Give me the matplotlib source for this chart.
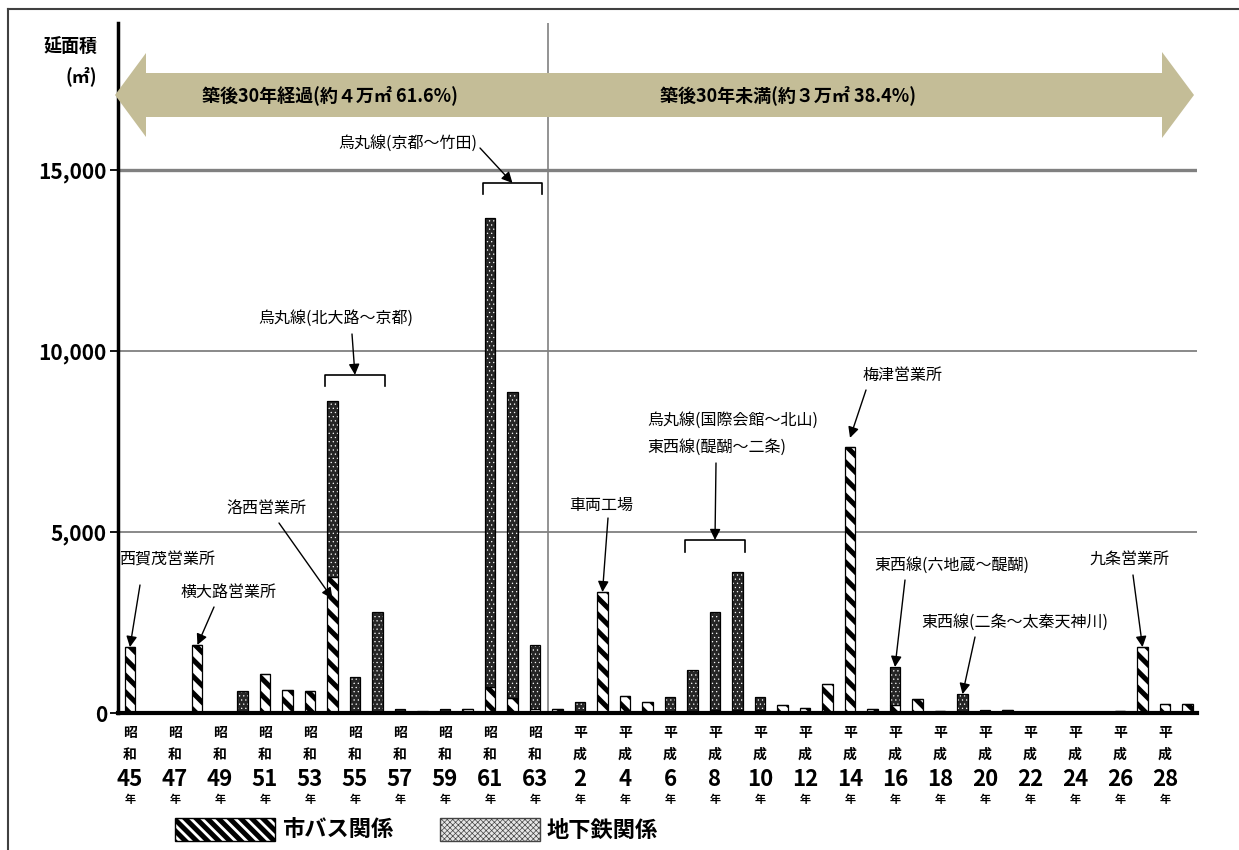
import matplotlib
matplotlib.use("Agg")
import matplotlib.pyplot as plt
import numpy as np
from matplotlib.patches import Patch, Polygon
from matplotlib.lines import Line2D
from matplotlib.transforms import blended_transform_factory

plt.rcParams["font.family"] = ["Noto Sans CJK JP", "DejaVu Sans"]
plt.rcParams["hatch.linewidth"] = 3.6

W, H = 1239, 850
BUS_EDGE = "black"
SUB_FACE = "#262626"
ARROW_C = "#C4BD97"
GRID_C = "#808080"
NARROW = ["Liberation Sans Narrow", "Noto Sans CJK JP"]

# 昭和45年 .. 平成29年 (one bar per year)
eras = ["昭和"] * 19 + ["平成"] * 29
era_years = list(range(45, 64)) + list(range(1, 30))
bus = [1820, 0, 0, 1880, 30, 0, 1080, 630, 600, 3760, 0, 0, 40, 0, 40, 110,
       720, 410, 100, 120, 30, 3340, 470, 300, 60, 60, 80, 80, 70, 220, 150, 800,
       7350, 110, 220, 390, 60, 50, 40, 70, 20, 0, 0, 0, 50, 1820, 250, 250]
subway = [0, 0, 0, 0, 0, 600, 0, 0, 0, 4860, 990, 2790, 80, 60, 70, 0,
          12950, 8460, 1780, 0, 270, 0, 0, 0, 380, 1130, 2710, 3820, 370, 0, 0, 0,
          0, 0, 1050, 0, 0, 470, 30, 0, 0, 0, 0, 0, 0, 0, 0, 0]
yticks = [0, 5000, 10000, 15000]

bus = np.array(bus); subway = np.array(subway)
x = np.arange(len(bus))

def fx(px): return px / W
def fy(py): return 1 - py / H

fig = plt.figure(figsize=(W / 100, H / 100), dpi=100)
ax = fig.add_axes([fx(118), fy(713), 1079 / W, 690 / H])
ax.set_xlim(-0.53, 47.42)
ax.set_ylim(0, 19060)

for v, lw in [(5000, 1.3), (10000, 1.3), (15000, 2.4)]:
    ax.axhline(v, color=GRID_C, lw=lw, zorder=0)
ax.axvline(18.58, color=GRID_C, lw=1.2, zorder=0.5)

bw = 0.45
bb = ax.bar(x, bus, bw, color="white", edgecolor=BUS_EDGE, hatch="\\\\", lw=0.9, zorder=2)
sb = ax.bar(x, subway, bw, bottom=bus, color=SUB_FACE, edgecolor="white", hatch="....",
            lw=0, zorder=2)
for p in sb:
    if hasattr(p, "set_hatch_linewidth"):
        p.set_hatch_linewidth(0.4)
ax.bar(x, subway, bw, bottom=bus, fill=False, edgecolor="black", lw=0.9, zorder=3)

for s in ["top", "right"]:
    ax.spines[s].set_visible(False)
ax.spines["left"].set_linewidth(2.5)
ax.spines["bottom"].set_linewidth(3)
ax.spines["bottom"].set_zorder(5)
ax.set_xticks([])
ax.set_yticks(yticks)
ax.set_yticklabels([f"{v:,}" for v in yticks], family=NARROW, fontweight="bold", fontsize=15)
ax.tick_params(axis="y", length=6, width=1.3, pad=2)

# year labels (every second year)
tr = blended_transform_factory(ax.transData, fig.transFigure)
for i in range(0, len(x), 2):
    ax.text(i, fy(733), eras[i][0], transform=tr, ha="center", va="center", fontsize=10, fontweight="bold")
    ax.text(i, fy(755), eras[i][1], transform=tr, ha="center", va="center", fontsize=10, fontweight="bold")
    ax.text(i, fy(780), str(era_years[i]), transform=tr, ha="center", va="center", fontsize=16,
            fontweight="bold", family=NARROW)
    ax.text(i, fy(799), "年", transform=tr, ha="center", va="center", fontsize=8, fontweight="bold")

# y-axis title
fig.text(fx(71), fy(47), "延面積", ha="center", va="center", fontsize=13, fontweight="bold")
fig.text(fx(81), fy(76), "(㎡)", ha="center", va="center", fontsize=13, fontweight="bold")

# big double arrow
pts = [(115, 95), (146, 53), (146, 73), (1162, 73), (1162, 52), (1194, 95), (1162, 138),
       (1162, 117), (146, 117), (146, 137)]
fig.add_artist(Polygon([(fx(a), fy(b)) for a, b in pts], closed=True, facecolor=ARROW_C,
                       edgecolor="none", transform=fig.transFigure, zorder=4))
fig.text(fx(330), fy(95), "築後30年経過(約４万㎡ 61.6%)", ha="center", va="center", fontsize=13,
         fontweight="bold", zorder=6)
fig.text(fx(788), fy(95), "築後30年未満(約３万㎡ 38.4%)", ha="center", va="center", fontsize=13,
         fontweight="bold", zorder=6)

# callouts: (label, label centre px, arrow start px, bar index, target value)
aprops = dict(arrowstyle="-|>", color="black", lw=1, mutation_scale=16, shrinkA=0, shrinkB=0)
callouts = [
    ("西賀茂営業所", (167, 560), (140, 585), 0, bus[0]),
    ("横大路営業所", (229, 592), (214, 607), 3, bus[3]),
    ("洛西営業所", (266, 508), (279, 523), 9, bus[9] - 600),
    ("車両工場", (601, 505), (608, 518), 21, bus[21]),
    ("梅津営業所", (903, 375), (866, 390), 32, bus[32] + 250),
    ("東西線(六地蔵～醍醐)", (952, 565), (905, 580), 34, bus[34] + subway[34]),
    ("東西線(二条～太秦天神川)", (1015, 622), (975, 637), 37, bus[37] + subway[37]),
    ("九条営業所", (1129, 560), (1133, 575), 45, bus[45]),
]
for label, (tx, ty), (sx, sy), i, v in callouts:
    fig.text(fx(tx), fy(ty), label, ha="center", va="center", fontsize=11.5)
    ax.annotate("", xy=(i, v), xycoords="data", xytext=(sx, H - sy), textcoords="figure pixels",
                arrowprops=aprops, zorder=6)

# bracketed groups: (labels, label pos px, arrow start px, first bar, last bar, bracket value, tick value)
brackets = [
    (["烏丸線(北大路～京都)"], (336, 318), (352, 334), 9, 11, 9340, 9040),
    (["烏丸線(京都～竹田)"], (408, 143), (480, 148), 16, 18, 14640, 14340),
    (["烏丸線(国際会館～北山)", "東西線(醍醐～二条)"], (647, 420), (716, 463), 25, 27, 4780, 4450),
]
for labels, (tx, ty), (sx, sy), i0, i1, yb, yt in brackets:
    ha = "center" if len(labels) == 1 else "left"
    for k, lab in enumerate(labels):
        fig.text(fx(tx), fy(ty + 27 * k), lab, ha=ha, va="center", fontsize=11.5)
    xl, xr = i0 - 0.32, i1 + 0.32
    ax.plot([xl, xl, xr, xr], [yt, yb, yb, yt], color="black", lw=1.2, zorder=6)
    ax.annotate("", xy=((xl + xr) / 2, yb), xycoords="data", xytext=(sx, H - sy),
                textcoords="figure pixels", arrowprops=aprops, zorder=6)

# frame
fig.add_artist(Line2D([fx(8), fx(8)], [fy(9), 0], color="#404040", lw=1.5, transform=fig.transFigure))
fig.add_artist(Line2D([fx(8), 1], [fy(9), fy(9)], color="#404040", lw=1.5, transform=fig.transFigure))

# legend
handles = [Patch(facecolor="white", edgecolor="black", hatch="\\\\\\", lw=1),
           Patch(facecolor="#e6e6e6", edgecolor="#444444", hatch="xxxxxx", lw=1)]
leg = fig.legend(handles, ["市バス関係", "地下鉄関係"], loc="lower left",
                 bbox_to_anchor=(fx(175), fy(842)), ncol=2, frameon=False, borderpad=0,
                 borderaxespad=0, handlelength=4.5, handleheight=1.15, handletextpad=0.3,
                 columnspacing=2.1, prop=dict(size=16, weight="bold"))
lh = leg.legend_handles[1]
if hasattr(lh, "set_hatch_linewidth"):
    lh.set_hatch_linewidth(0.5)

fig.savefig("out.png", dpi=100)
